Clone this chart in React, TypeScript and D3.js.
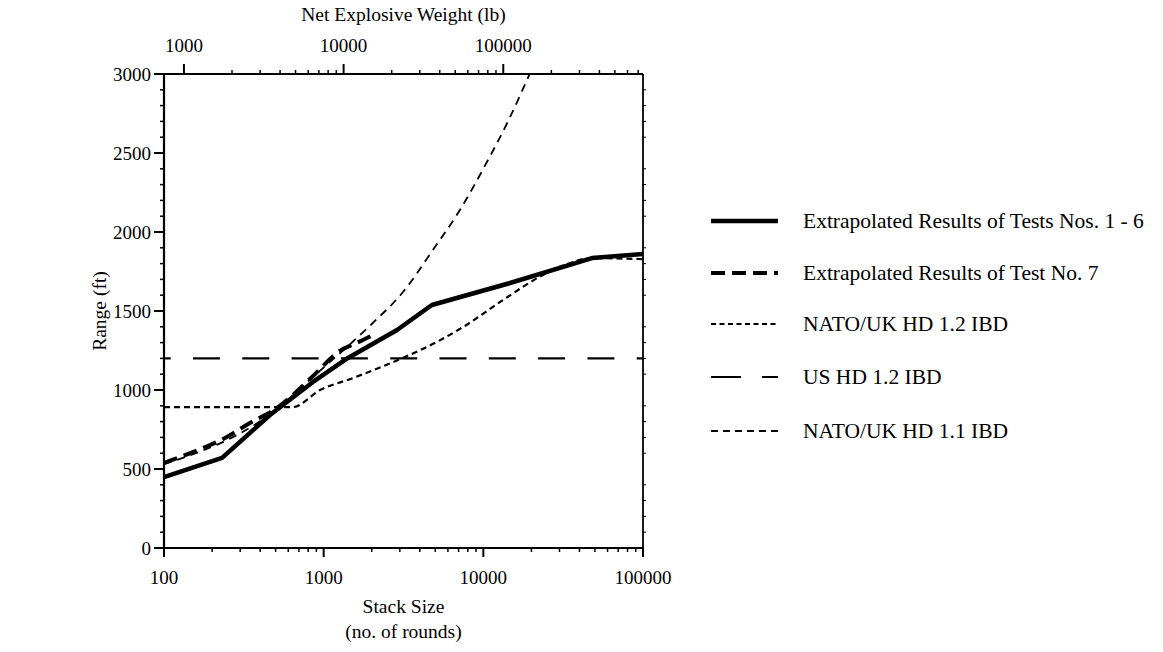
import React from "react";
import * as d3 from "d3";

// ---- data (x = stack size in rounds, y = range in ft) ----
const tests1to6: [number, number][] = [
  [100, 449], [231, 570], [461, 842], [857, 1051], [1420, 1203], [2880, 1380],
  [4760, 1538], [14700, 1677], [47900, 1835], [100000, 1861],
];
const test7: [number, number][] = [
  [100, 538], [175, 633], [241, 696], [345, 791], [510, 886], [845, 1082],
  [1230, 1240], [1760, 1316], [2000, 1345],
];
const natoHd12: [number, number][] = [
  [100, 892], [640, 892], [950, 1000], [1530, 1076], [3130, 1203], [5110, 1304],
  [7480, 1399], [13300, 1570], [23600, 1728], [32000, 1790], [48000, 1835], [100000, 1828],
];
const usHd12: [number, number][] = [
  [100, 1200], [100000, 1200],
];
const natoHd11: [number, number][] = [
  [100, 530], [510, 880], [850, 1080], [1500, 1300], [2030, 1424], [3140, 1620],
  [4830, 1886], [7130, 2139], [10700, 2456], [14200, 2696], [19500, 3000],
];

const bottomTicks = [100, 1000, 10000, 100000];
const topTicks = [1000, 10000, 100000];
const yTicks = [0, 500, 1000, 1500, 2000, 2500, 3000];

const legendLabels = [
  "Extrapolated Results of Tests Nos. 1 - 6",
  "Extrapolated Results of Test No. 7",
  "NATO/UK HD 1.2 IBD",
  "US HD 1.2 IBD",
  "NATO/UK HD 1.1 IBD",
];

const W = 1163, H = 652;
const L = 164, R = 643, T = 74, B = 548;
const FONT = '"Liberation Serif", "Times New Roman", "DejaVu Serif", serif';

export default function App() {
  const x = d3.scaleLog().domain([100, 100000]).range([L, R]);
  const xTop = d3.scaleLog().domain([750, 750000]).range([L, R]);
  const y = d3.scaleLinear().domain([0, 3000]).range([B, T]);

  const lin = d3.line<[number, number]>().x(d => x(d[0])).y(d => y(d[1]));
  const smooth = d3.line<[number, number]>().x(d => x(d[0])).y(d => y(d[1])).curve(d3.curveMonotoneX);

  const series = [
    { data: tests1to6, gen: lin, width: 4.5, dash: "none", legendDash: "none" },
    { data: test7, gen: smooth, width: 4, dash: "14,7", legendDash: "14,7" },
    { data: natoHd12, gen: smooth, width: 2.2, dash: "6,4", legendDash: "5,3.5" },
    { data: usHd12, gen: lin, width: 2.2, dash: "27,22.3", legendDash: "30,21", offset: 20.3 },
    { data: natoHd11, gen: smooth, width: 1.8, dash: "8,6", legendDash: "7,5" },
  ];

  const bottomMinor: number[] = [];
  for (let dec = 100; dec < 100000; dec *= 10) for (let k = 2; k <= 9; k++) bottomMinor.push(dec * k);
  const topMinor: number[] = [];
  for (let dec = 1000; dec <= 100000; dec *= 10) for (let k = 2; k <= 9; k++) if (dec * k <= 740000) topMinor.push(dec * k);
  const yMinor = d3.range(0, 3001, 100).filter(v => v % 500 !== 0);

  const legendY = [221, 273, 324, 377, 431];

  return (
    <svg width={W} height={H} style={{ position: "absolute", left: 0, top: 0, background: "#fff", fontFamily: FONT }}>
      <rect x={0} y={0} width={W} height={H} fill="#fff" />
      <g stroke="#000" fill="none">
        <line x1={L} y1={T} x2={L} y2={B} strokeWidth={2.2} />
        <line x1={L} y1={B} x2={R} y2={B} strokeWidth={2} />
        <line x1={L} y1={T} x2={R} y2={T} strokeWidth={2} />
        <line x1={R} y1={T} x2={R} y2={B} strokeWidth={1.8} />
      </g>
      <g stroke="#000">
        {yTicks.map(v => (
          <line key={"ym" + v} x1={L - 10} x2={L} y1={y(v)} y2={y(v)} strokeWidth={2} />
        ))}
        {yMinor.map(v => (
          <line key={"yn" + v} x1={L - 4} x2={L} y1={y(v)} y2={y(v)} strokeWidth={1.5} />
        ))}
        {yMinor.map(v => (
          <line key={"yr" + v} x1={R} x2={R + 3} y1={y(v)} y2={y(v)} strokeWidth={1} />
        ))}
        {bottomTicks.map(v => (
          <line key={"bm" + v} x1={x(v)} x2={x(v)} y1={B} y2={B + 9} strokeWidth={2} />
        ))}
        {bottomMinor.map(v => (
          <line key={"bn" + v} x1={x(v)} x2={x(v)} y1={B} y2={B + 4} strokeWidth={1.5} />
        ))}
        {topTicks.map(v => (
          <line key={"tm" + v} x1={xTop(v)} x2={xTop(v)} y1={T} y2={T - 10} strokeWidth={2} />
        ))}
        {topMinor.map(v => (
          <line key={"tn" + v} x1={xTop(v)} x2={xTop(v)} y1={T} y2={T - 4} strokeWidth={1.5} />
        ))}
      </g>
      <g fontSize={19} fill="#000" style={{ fontFamily: FONT }}>
        {yTicks.map(v => (
          <text key={"yl" + v} x={L - 13} y={y(v) + 6.5} textAnchor="end">{v}</text>
        ))}
        {bottomTicks.map(v => (
          <text key={"bl" + v} x={x(v)} y={584} textAnchor="middle">{v}</text>
        ))}
        {topTicks.map(v => (
          <text key={"tl" + v} x={xTop(v)} y={52} textAnchor="middle">{v}</text>
        ))}
      </g>
      <g fontSize={19.5} fill="#000" textAnchor="middle" style={{ fontFamily: FONT }}>
        <text x={(L + R) / 2} y={21}>Net Explosive Weight (lb)</text>
        <text x={(L + R) / 2} y={613}>Stack Size</text>
        <text x={(L + R) / 2} y={638}>(no. of rounds)</text>
        <text transform={`translate(106, ${(T + B) / 2}) rotate(-90)`}>Range (ft)</text>
      </g>
      <defs>
        <clipPath id="plotclip">
          <rect x={L} y={T} width={R - L} height={B - T} />
        </clipPath>
      </defs>
      <g clipPath="url(#plotclip)" fill="none" stroke="#000">
        {series.slice().reverse().map((s, i) => (
          <path key={i} d={s.gen(s.data) || ""} strokeWidth={s.width}
            strokeDasharray={s.dash} strokeDashoffset={s.offset || 0} strokeLinejoin="round" />
        ))}
      </g>
      <g style={{ fontFamily: FONT }}>
        {series.map((s, i) => (
          <g key={i}>
            <line x1={711} x2={778} y1={legendY[i]} y2={legendY[i]} stroke="#000"
              strokeWidth={s.width} strokeDasharray={s.legendDash} />
            <text x={803} y={legendY[i] + 7} fontSize={21.5} fill="#000">{legendLabels[i]}</text>
          </g>
        ))}
      </g>
    </svg>
  );
}
